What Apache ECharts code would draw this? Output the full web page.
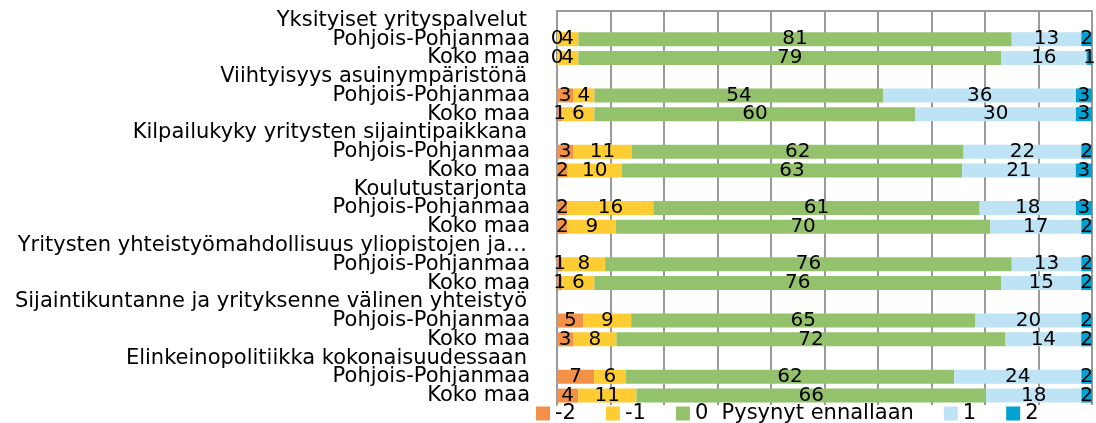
<!DOCTYPE html>
<html>
<head>
<meta charset="utf-8">
<script src="https://cdn.jsdelivr.net/npm/echarts@6/dist/echarts.min.js"></script>
<style>
  html, body { margin: 0; padding: 0; background: #fff; }
  #chart { width: 1096px; height: 423px; }
</style>
</head>
<body>
<div id="chart"></div>
<script>
// ryhmät (otsikkorivit) ja alueet
var groupNames = [
  'Yksityiset yrityspalvelut',
  'Viihtyisyys asuinympäristönä',
  'Kilpailukyky yritysten sijaintipaikkana',
  'Koulutustarjonta',
  'Yritysten yhteistyömahdollisuus yliopistojen ja…',
  'Sijaintikuntanne ja yrityksenne välinen yhteistyö',
  'Elinkeinopolitiikka kokonaisuudessaan'
];
var regionNames = ['Pohjois-Pohjanmaa', 'Koko maa'];
var levelNames = ['-2', '-1', '0  Pysynyt ennallaan', '1', '2'];
var levelColors = ['#F39149', '#FFCD33', '#94C16B', '#BEE3F5', '#00A2D3'];

// arvot riveittäin: ryhmä1 PP, ryhmä1 KM, ryhmä2 PP, ...
var vMinus2 = [0, 0, 3, 1, 3, 2, 2, 2, 1, 1, 5, 3, 7, 4];
var vMinus1 = [4, 4, 4, 6, 11, 10, 16, 9, 8, 6, 9, 8, 6, 11];
var vZero   = [81, 79, 54, 60, 62, 63, 61, 70, 76, 76, 65, 72, 62, 66];
var vPlus1  = [13, 16, 36, 30, 22, 21, 18, 17, 13, 15, 20, 14, 24, 18];
var vPlus2  = [2, 1, 3, 3, 2, 3, 3, 2, 2, 2, 2, 2, 2, 2];
var levelValues = [vMinus2, vMinus1, vZero, vPlus1, vPlus2];

// kategoriat: otsikko + kaksi aluetta per ryhmä
var categories = [];
var rowIndex = []; // null = otsikkorivi
groupNames.forEach(function (g, gi) {
  categories.push(g);
  rowIndex.push(null);
  regionNames.forEach(function (r, ri) {
    categories.push(r);
    rowIndex.push(gi * 2 + ri);
  });
});

// 100 % pinottu: skaalataan rivin summaan
var series = levelNames.map(function (name, li) {
  return {
    name: name,
    type: 'bar',
    stack: 'total',
    barWidth: 14,
    itemStyle: { color: levelColors[li] },
    label: {
      show: true,
      position: 'inside',
      color: '#000',
      fontFamily: 'DejaVu Sans',
      fontSize: 20,
      formatter: function (p) { return p.data && p.data.raw != null ? String(p.data.raw) : ''; }
    },
    data: rowIndex.map(function (k) {
      if (k === null) return null;
      var total = 0;
      levelValues.forEach(function (arr) { total += arr[k]; });
      return { value: levelValues[li][k] / total * 100, raw: levelValues[li][k] };
    })
  };
});

var myChart = echarts.init(document.getElementById('chart'));
var option = {
  animation: false,
  backgroundColor: '#fff',
  textStyle: { fontFamily: 'DejaVu Sans' },
  grid: { left: 557, right: 4, top: 11, bottom: 18, containLabel: false },
  legend: {
    data: levelNames,
    left: 536,
    top: 403,
    padding: 0,
    icon: 'rect',
    itemWidth: 14,
    itemHeight: 14,
    itemGap: 30,
    textStyle: { color: '#000', fontSize: 21, fontFamily: 'DejaVu Sans' }
  },
  xAxis: {
    type: 'value',
    position: 'top',
    min: 0,
    max: 100,
    interval: 10,
    axisLabel: { show: false },
    axisTick: { show: false },
    axisLine: { show: true, lineStyle: { color: '#9a9a9a', width: 2 } },
    splitLine: { show: true, lineStyle: { color: '#9a9a9a', width: 2 } }
  },
  yAxis: {
    type: 'category',
    inverse: true,
    data: categories,
    axisTick: { show: false },
    axisLine: { show: true, lineStyle: { color: '#9a9a9a', width: 2 } },
    axisLabel: {
      margin: 27,
      interval: 0,
      formatter: function (v) {
        return groupNames.indexOf(v) >= 0 ? '{h|' + v + '}' : '{s|' + v + '}';
      },
      rich: {
        h: { color: '#000', fontSize: 21, fontFamily: 'DejaVu Sans', padding: [0, 3, 0, 0] },
        s: { color: '#000', fontSize: 21, fontFamily: 'DejaVu Sans' }
      }
    }
  },
  series: series
};
myChart.setOption(option);
</script>
</body>
</html>
